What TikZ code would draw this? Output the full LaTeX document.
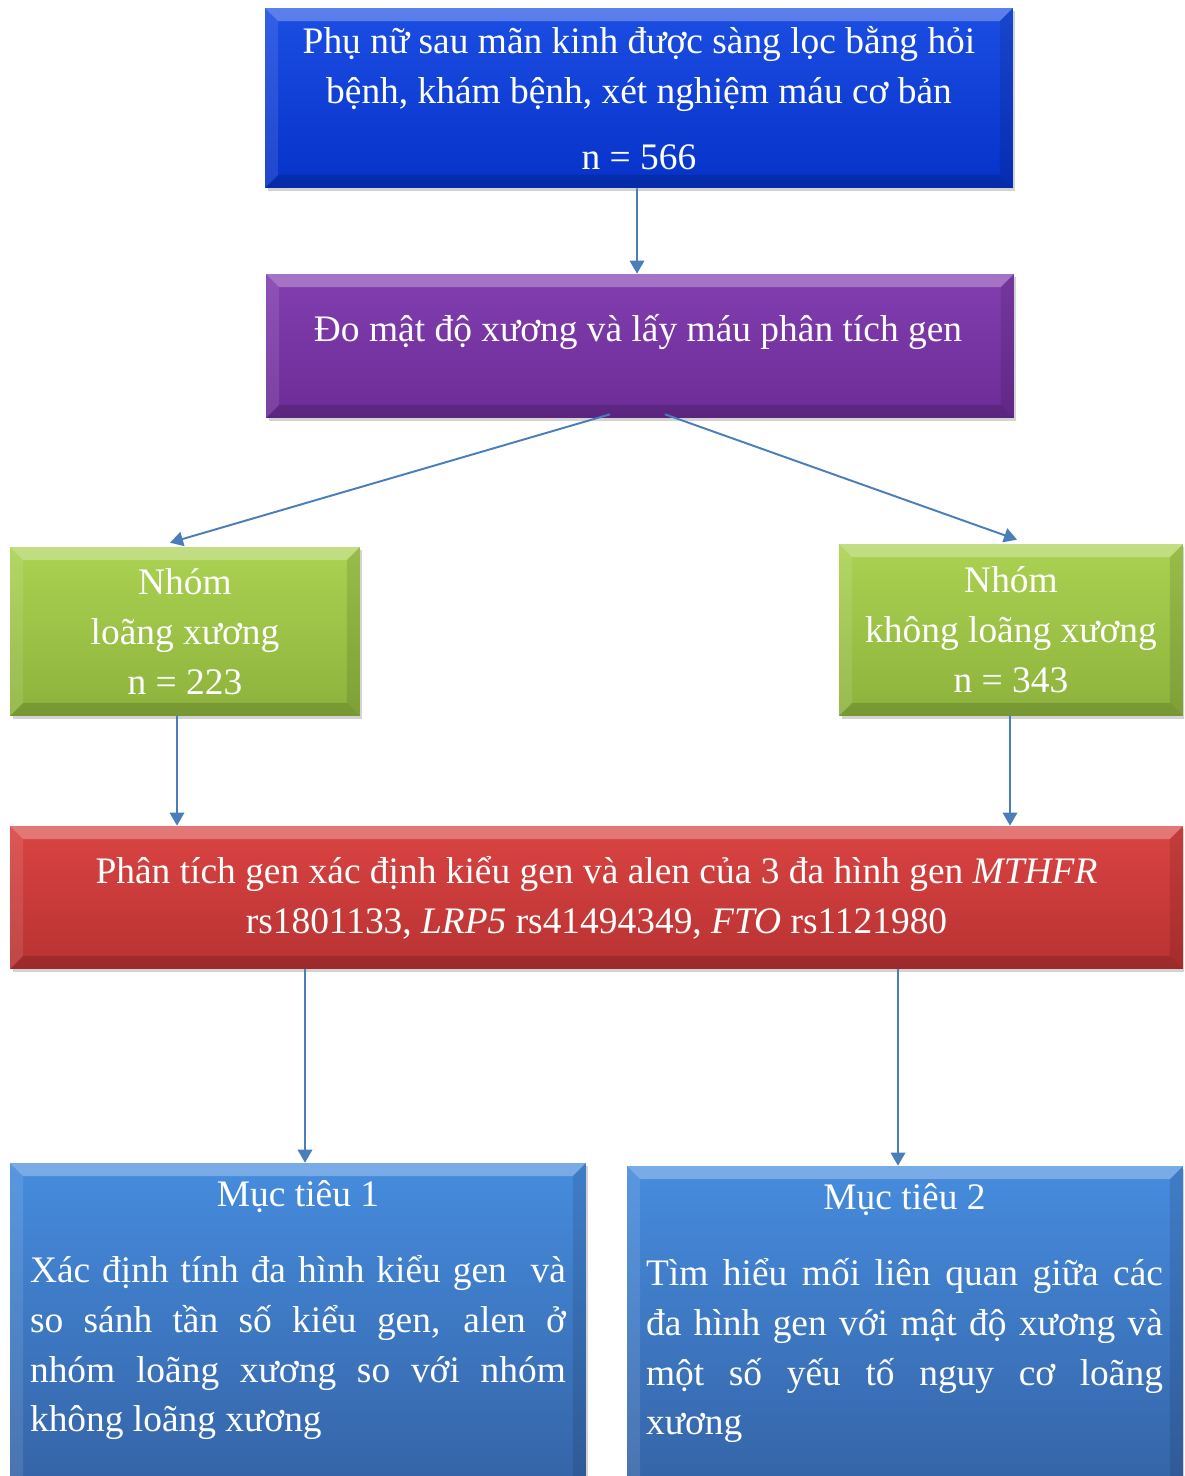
\documentclass[tikz,border=0pt]{standalone}
\usepackage{fontspec}
\setmainfont{Liberation Serif}
\usetikzlibrary{arrows.meta,shadows,positioning}
\definecolor{arrowblue}{RGB}{74,126,187}
\definecolor{topA}{RGB}{28,78,228}
\definecolor{topB}{RGB}{6,50,200}
\definecolor{purA}{RGB}{130,62,176}
\definecolor{purB}{RGB}{108,44,150}
\definecolor{grnA}{RGB}{172,210,82}
\definecolor{grnB}{RGB}{140,178,60}
\definecolor{redA}{RGB}{218,68,66}
\definecolor{redB}{RGB}{184,50,50}
\definecolor{goalA}{RGB}{70,140,222}
\definecolor{goalB}{RGB}{52,98,164}
\newcommand{\bevw}{0.26cm}
\hyphenpenalty=10000\relax

\tikzset{
  bevel/.style={path picture={
    \coordinate (bnw) at (path picture bounding box.north west);
    \coordinate (bne) at (path picture bounding box.north east);
    \coordinate (bsw) at (path picture bounding box.south west);
    \coordinate (bse) at (path picture bounding box.south east);
    \fill[white,opacity=.28] (bnw) -- (bne) -- ([shift={(-\bevw,-\bevw)}]bne) -- ([shift={(\bevw,-\bevw)}]bnw) -- cycle;
    \fill[white,opacity=.1] (bnw) -- ([shift={(\bevw,-\bevw)}]bnw) -- ([shift={(\bevw,\bevw)}]bsw) -- (bsw) -- cycle;
    \fill[black,opacity=.1] (bne) -- (bse) -- ([shift={(-\bevw,\bevw)}]bse) -- ([shift={(-\bevw,-\bevw)}]bne) -- cycle;
    \fill[black,opacity=.15] (bsw) -- ([shift={(\bevw,\bevw)}]bsw) -- ([shift={(-\bevw,\bevw)}]bse) -- (bse) -- cycle;
  }},
  boxtext/.style={inner sep=0pt, text=white, align=center,
    font=\fontsize{21.3}{28.4}\selectfont},
  box/.style={boxtext, rectangle, bevel,
    drop shadow={shadow xshift=0.05cm, shadow yshift=-0.06cm, opacity=.35}},
  flow/.style={arrowblue, line width=1.1pt, -{Triangle[width=0.29cm,length=0.26cm]}},
}

\begin{document}
\begin{tikzpicture}[x=0.02cm,y=-0.02cm]
  \clip (0,0) rectangle (1184,1476);
  \useasboundingbox (0,0) rectangle (1184,1476);

  % boxes
  \node[box, top color=topA, bottom color=topB, minimum width=14.96cm, minimum height=3.6cm]
    (screen) at (639,98) {Phụ nữ sau mãn kinh được sàng lọc bằng hỏi\\
    bệnh, khám bệnh, xét nghiệm máu cơ bản\\[0.32cm] n = 566};
  \node[box, top color=purA, bottom color=purB, minimum width=14.96cm, minimum height=2.88cm]
    (bmd) at (640,346) {};
  \node[boxtext] (bmdtext) at (638,332) {Đo mật độ xương và lấy máu phân tích gen};
  \node[box, top color=grnA, bottom color=grnB, minimum width=7cm, minimum height=3.38cm]
    (osteo) at (185,631.5) {Nhóm\\ loãng xương\\ n = 223};
  \node[box, top color=grnA, bottom color=grnB, minimum width=6.88cm, minimum height=3.44cm]
    (normal) at (1011,630) {Nhóm\\ không loãng xương\\ n = 343};
  \node[box, top color=redA, bottom color=redB, minimum width=23.46cm, minimum height=2.86cm]
    (genotype) at (596.5,897.5) {Phân tích gen xác định kiểu gen và alen của 3 đa hình gen \textit{MTHFR}\\
    rs1801133, \textit{LRP5} rs41494349, \textit{FTO} rs1121980};
  \node[box, top color=goalA, bottom color=goalB, minimum width=11.52cm, minimum height=6.74cm]
    (goal1) at (298,1331.5) {};
  \node[box, top color=goalA, bottom color=goalB, minimum width=11.12cm, minimum height=6.68cm]
    (goal2) at (905,1333) {};

  % goal texts
  \node[boxtext, align=justify, text width=10.72cm, anchor=north] (goal1text) at (298,1180)
    {\hfill Mục tiêu 1\hfill\null\\[0.52cm]
    Xác định tính đa hình kiểu gen \ và\linebreak
    so sánh tần số kiểu gen, alen ở\linebreak
    nhóm loãng xương so với nhóm\linebreak
    không loãng xương};
  \node[boxtext, align=justify, text width=10.34cm, anchor=north] (goal2text) at (904.5,1183)
    {\hfill Mục tiêu 2\hfill\null\\[0.52cm]
    Tìm hiểu mối liên quan giữa các\linebreak
    đa hình gen với mật độ xương và\linebreak
    một số yếu tố nguy cơ loãng\linebreak
    xương};

  % arrows
  \draw[flow] ([xshift=-0.04cm]screen.south) -- ([xshift=-0.06cm]bmd.north);
  \draw[flow] ([xshift=-0.6cm,yshift=0.08cm]bmd.south) -- ([xshift=-0.3cm,yshift=0.08cm]osteo.north);
  \draw[flow] ([xshift=0.5cm,yshift=0.08cm]bmd.south) -- ([xshift=0.12cm,yshift=0.08cm]normal.north);
  \draw[flow] ([xshift=-0.16cm]osteo.south) -- ([xshift=-0.16cm]osteo.south |- genotype.north);
  \draw[flow] ([xshift=-0.02cm]normal.south) -- ([xshift=-0.02cm]normal.south |- genotype.north);
  \draw[flow] ([xshift=0.14cm]goal1.north |- genotype.south) -- ([xshift=0.14cm]goal1.north);
  \draw[flow] ([xshift=-0.14cm]goal2.north |- genotype.south) -- ([xshift=-0.14cm]goal2.north);
\end{tikzpicture}
\end{document}
